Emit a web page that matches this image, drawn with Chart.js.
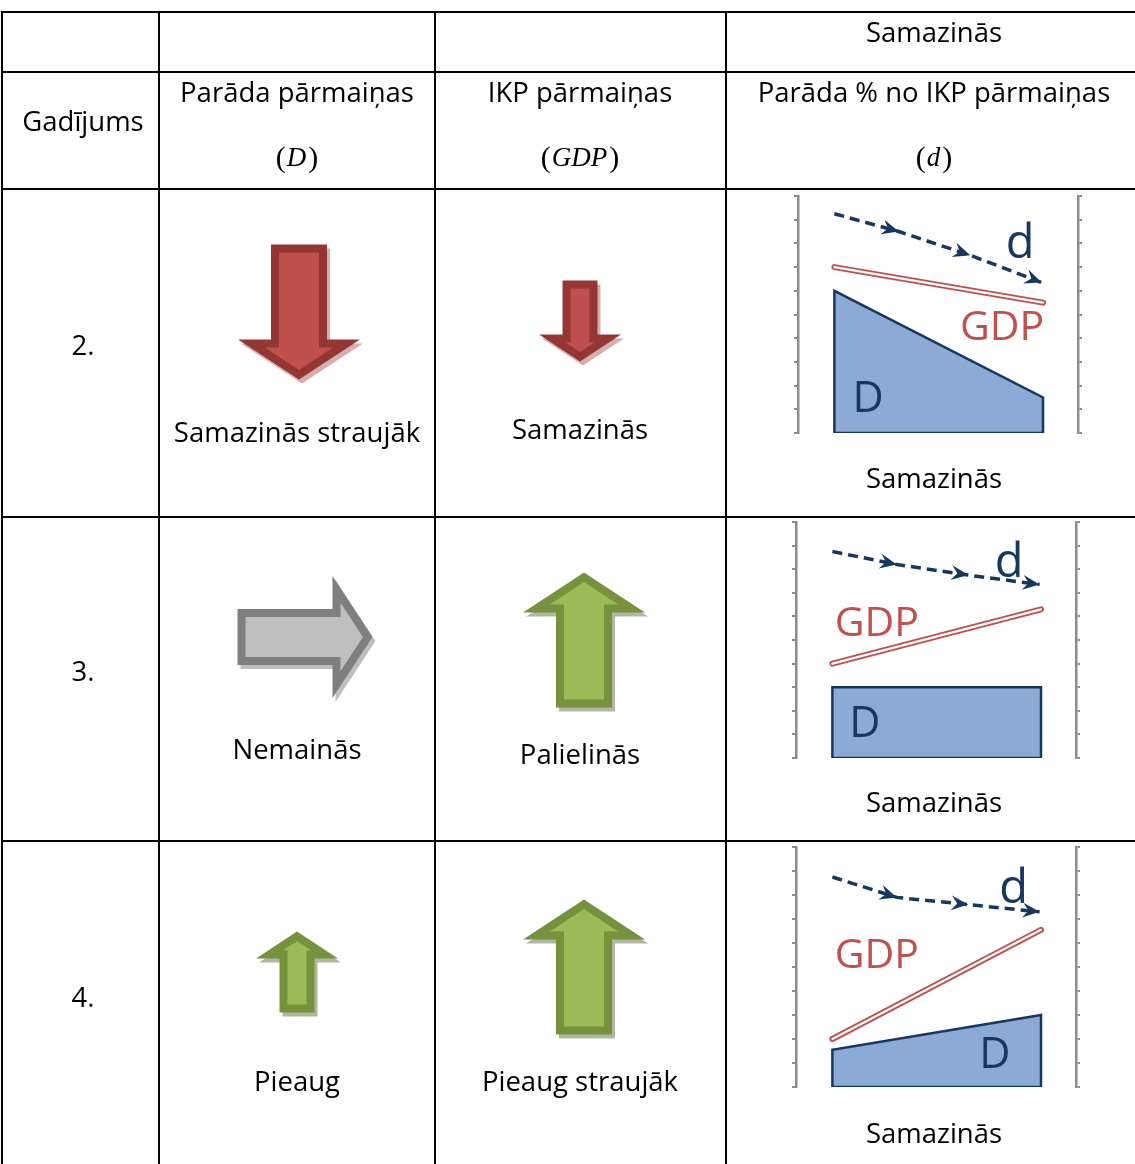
<!DOCTYPE html>
<html><head><meta charset="utf-8">
<script src="https://cdn.jsdelivr.net/npm/chart.js@4.4.1/dist/chart.umd.min.js"></script>
<style>
html,body{margin:0;padding:0;background:#fff;overflow:hidden;}
#wrap{position:relative;width:1135px;height:1164px;background:#fff;}
#wrap canvas{position:absolute;left:0;top:0;}
</style></head><body>
<div id="wrap"><canvas id="main" width="1135" height="1164"></canvas></div>
<script>
// ---------------- DATA ----------------
const caseLabels   = ['2.', '3.', '4.'];
const headerTop    = ['', '', '', 'Samazinās'];
const headerLabels = ['Gadījums', 'Parāda pārmaiņas', 'IKP pārmaiņas', 'Parāda % no IKP pārmaiņas'];
const headerSymbols = ['', 'D', 'GDP', 'd'];
// trend of each series per case: sign = direction, |2| = large arrow, |1| = small arrow, 0 = unchanged
const debtTrend = [-2, 0, 1];
const gdpTrend  = [-1, 2, 2];
const debtText  = ['Samazinās straujāk', 'Nemainās', 'Pieaug'];
const gdpText   = ['Samazinās', 'Palielinās', 'Pieaug straujāk'];
const ratioText = ['Samazinās', 'Samazinās', 'Samazinās'];
// schematic diagrams (axis 0..10)
const diagramX   = [1.3, 8.75];
const ratioX     = [1.3, 3.6, 6.15, 8.7];
const debtLevels = [[6.0, 1.5], [3.0, 3.0], [1.55, 3.0]];
const gdpLevels  = [[7.0, 5.5], [4.0, 6.3], [2.0, 6.55]];
const ratioLevels = [[9.25, 8.5, 7.5, 6.35], [8.75, 8.2, 7.75, 7.35], [8.75, 7.9, 7.6, 7.3]];
const axisRange = [0, 10];

// ---------------- LAYOUT / STYLE ----------------
const W = 1135, H = 1164;
const colEdges = [2, 159, 435, 726];
const rowEdges = [12, 72, 189, 517, 841];
const colCenters = [83, 297, 580, 934];
const headTopBase = 42, headBase = 102, headCaseBase = 131, headSymBase = 166;
const caseBase = [355, 681, 1007];
const cellLabelBase = [[442, 439, 488], [759, 764, 812], [1091, 1091, 1143]];
const arrowPos = [[[299, 312], [580, 321]], [[305, 637], [584, 640]], [[297, 972], [584, 967]]];
const diagBox = [[798, 196, 1078, 433], [796, 522, 1076, 758], [796, 847, 1076, 1087]];
const labelPos = [
  {D: [2.5, 0.89], GDP: [7.29, 3.92], d: [7.93, 7.38]},
  {D: [2.46, 0.89], GDP: [2.89, 5.17], d: [7.61, 7.67]},
  {D: [7.1, 0.79], GDP: [2.89, 4.96], d: [7.77, 7.67]}
];
const FONT = '27.5px "Open Sans"';
const GRAY = '#8A8A8A', NAVY = '#17375E', BLUE = '#8CAAD5', RED = '#C0504D';
const BIG = {len: 135, head: 122, shaft: 56, headLen: 40};
const SMALL = {len: 81, head: 82, shaft: 35, headLen: 27};
const ARROW_STYLE = {
  neg:  {fill: '#C0504D', edge: '#943634', shadow: 'rgba(148,54,52,0.40)'},
  zero: {fill: '#BFBFBF', edge: '#7F7F7F', shadow: 'rgba(110,110,110,0.45)'},
  pos:  {fill: '#9BBB59', edge: '#76923C', shadow: 'rgba(95,110,70,0.50)'}
};
const BORDER = 8;

// ---------------- HELPERS ----------------
function arrowShape(v, cx, cy) {
  const s = Math.abs(v) === 1 ? SMALL : BIG;
  const L = s.len, hl = s.headLen;
  let pts = [[0, -L / 2], [s.head / 2, -L / 2 + hl], [s.shaft / 2, -L / 2 + hl], [s.shaft / 2, L / 2],
             [-s.shaft / 2, L / 2], [-s.shaft / 2, -L / 2 + hl], [-s.head / 2, -L / 2 + hl]];
  const rot = v > 0 ? p => p : v < 0 ? p => [-p[0], -p[1]] : p => [-p[1], p[0]];
  return pts.map(rot).map(p => [p[0] + cx, p[1] + cy]);
}
function inset(pts, d) {
  const n = pts.length;
  let A = 0;
  for (let i = 0; i < n; i++) { const a = pts[i], b = pts[(i + 1) % n]; A += a[0] * b[1] - b[0] * a[1]; }
  const sg = A > 0 ? 1 : -1;
  const edges = pts.map((a, i) => {
    const b = pts[(i + 1) % n], dx = b[0] - a[0], dy = b[1] - a[1], l = Math.hypot(dx, dy);
    const nx = sg * -dy / l, ny = sg * dx / l;
    return {p: [a[0] + nx * d, a[1] + ny * d], r: [dx, dy]};
  });
  const cross = (u, w) => u[0] * w[1] - u[1] * w[0];
  return pts.map((_, i) => {
    const e1 = edges[(i - 1 + n) % n], e2 = edges[i];
    const den = cross(e1.r, e2.r);
    if (Math.abs(den) < 1e-9) return e2.p;
    const t = cross([e2.p[0] - e1.p[0], e2.p[1] - e1.p[1]], e2.r) / den;
    return [e1.p[0] + t * e1.r[0], e1.p[1] + t * e1.r[1]];
  });
}
function styleFor(v) { return v < 0 ? ARROW_STYLE.neg : v > 0 ? ARROW_STYLE.pos : ARROW_STYLE.zero; }

// ---------------- MAIN TABLE CHART ----------------
const mainSets = [];
let seq = 0;
function addSet(ds, arr) {
  const a = arr || mainSets;
  ds.order = -(seq++); ds.pointRadius = 0; ds.pointHoverRadius = 0; ds.tension = 0;
  a.push(ds);
}
function poly(pts, color) {
  return {data: pts.concat([pts[0]]).map(p => ({x: p[0], y: p[1]})), fill: 'shape',
          backgroundColor: color, borderColor: 'rgba(0,0,0,0)', borderWidth: 0};
}
[debtTrend, gdpTrend].forEach((trend, c) => trend.forEach((v, r) => {
  const [cx, cy] = arrowPos[r][c];
  const outer = arrowShape(v, cx, cy);
  const st = styleFor(v);
  addSet(poly(outer.map(p => [p[0] + 3, p[1] + 4]), st.shadow));
  addSet(poly(outer, st.edge));
  addSet(poly(inset(outer, BORDER), st.fill));
}));
rowEdges.forEach(yv => addSet({data: [{x: colEdges[0] - 1, y: yv}, {x: W, y: yv}], borderColor: '#000', borderWidth: 2, fill: false}));
colEdges.forEach(xv => addSet({data: [{x: xv, y: rowEdges[0] - 1}, {x: xv, y: H}], borderColor: '#000', borderWidth: 2, fill: false}));

function drawMath(ctx, s, cx, base) {
  const up = '30px "Liberation Serif"', it = 'italic 27px "Liberation Serif"';
  ctx.font = up; const wp = ctx.measureText('(').width, wq = ctx.measureText(')').width;
  ctx.font = it; const ws = ctx.measureText(s).width + 3;
  const x0 = cx - (wp + ws + wq) / 2;
  ctx.textAlign = 'left';
  ctx.font = up; ctx.fillText('(', x0, base + 1);
  ctx.font = it; ctx.fillText(s, x0 + wp + 1, base);
  ctx.font = up; ctx.fillText(')', x0 + wp + ws, base + 1);
  ctx.textAlign = 'center'; ctx.font = FONT;
}
const tablePlugin = {
  id: 'tableText',
  afterDatasetsDraw(chart) {
    const {ctx, scales: {x, y}} = chart;
    const px = v => x.getPixelForValue(v), py = v => y.getPixelForValue(v);
    ctx.save();
    ctx.fillStyle = '#000'; ctx.textAlign = 'center'; ctx.textBaseline = 'alphabetic'; ctx.font = FONT;
    headerTop.forEach((t, i) => { if (t) ctx.fillText(t, px(colCenters[i]), py(headTopBase)); });
    headerLabels.forEach((t, i) => ctx.fillText(t, px(colCenters[i]), py(headerSymbols[i] ? headBase : headCaseBase)));
    headerSymbols.forEach((s, i) => { if (s) drawMath(ctx, s, px(colCenters[i]), py(headSymBase)); });
    caseLabels.forEach((t, r) => ctx.fillText(t, px(colCenters[0]), py(caseBase[r])));
    [debtText, gdpText, ratioText].forEach((arr, c) => arr.forEach((t, r) =>
      ctx.fillText(t, px(colCenters[c + 1]), py(cellLabelBase[r][c]))));
    ctx.restore();
  }
};
const charts = [];
charts.push(new Chart(document.getElementById('main'), {
  type: 'line',
  data: {datasets: mainSets},
  options: {
    responsive: false, animation: false, events: [],
    layout: {padding: 0, autoPadding: false},
    plugins: {legend: {display: false}, tooltip: {enabled: false}},
    elements: {line: {borderJoinStyle: 'miter'}},
    scales: {
      x: {type: 'linear', min: 0, max: W, display: false},
      y: {type: 'linear', min: 0, max: H, reverse: true, display: false}
    }
  },
  plugins: [tablePlugin]
}));

// ---------------- DIAGRAM CHARTS ----------------
function arrowhead(ctx, a, b) {
  const dx = b[0] - a[0], dy = b[1] - a[1], L = Math.hypot(dx, dy);
  const ux = dx / L, uy = dy / L, vx = -uy, vy = ux;
  const len = 17, half = 7.5, notch = 11;
  ctx.beginPath();
  ctx.moveTo(b[0], b[1]);
  ctx.lineTo(b[0] - ux * len + vx * half, b[1] - uy * len + vy * half);
  ctx.lineTo(b[0] - ux * notch, b[1] - uy * notch);
  ctx.lineTo(b[0] - ux * len - vx * half, b[1] - uy * len - vy * half);
  ctx.closePath(); ctx.fill();
}
const diagramPlugin = {
  id: 'diagramMarks',
  afterDatasetsDraw(chart, args, opts) {
    const r = opts.row;
    const {ctx, scales: {x, yL}} = chart;
    const di = chart.data.datasets.findIndex(ds => ds.label === 'd');
    const pts = chart.getDatasetMeta(di).data.map(p => [p.x, p.y]);
    ctx.save();
    ctx.fillStyle = NAVY;
    for (let i = 1; i < pts.length; i++) arrowhead(ctx, pts[i - 1], pts[i]);
    const lp = labelPos[r];
    ctx.textAlign = 'center'; ctx.textBaseline = 'alphabetic';
    ctx.font = '43px "Open Sans"'; ctx.fillStyle = NAVY;
    ctx.fillText(headerSymbols[1], x.getPixelForValue(lp.D[0]), yL.getPixelForValue(lp.D[1]));
    ctx.font = '41px "Open Sans"'; ctx.fillStyle = RED;
    ctx.fillText(headerSymbols[2], x.getPixelForValue(lp.GDP[0]), yL.getPixelForValue(lp.GDP[1]));
    ctx.font = '47px "Open Sans"'; ctx.fillStyle = NAVY;
    ctx.fillText(headerSymbols[3], x.getPixelForValue(lp.d[0]), yL.getPixelForValue(lp.d[1]));
    ctx.restore();
  }
};
const TICK = 4, PADX = 20, PADY = 12;
const axisCfg = pos => ({
  type: 'linear', position: pos, display: true, min: axisRange[0], max: axisRange[1],
  ticks: {display: false, stepSize: 1},
  grid: {display: true, drawOnChartArea: false, drawTicks: true, tickLength: TICK, color: GRAY, lineWidth: 2},
  border: {display: true, color: GRAY, width: 2.5}
});
const wrap = document.getElementById('wrap');
diagBox.forEach((box, r) => {
  const [L, T, R, B] = box;
  const cv = document.createElement('canvas');
  const w = (R - L) + 2 * (PADX + TICK), h = (B - T) + 2 * PADY;
  cv.width = w; cv.height = h;
  cv.style.left = (L - PADX - TICK) + 'px'; cv.style.top = (T - PADY) + 'px';
  cv.style.width = w + 'px'; cv.style.height = h + 'px';
  wrap.appendChild(cv);
  const sets = [];
  const x0 = diagramX[0], x1 = diagramX[1];
  addSet({label: 'D', yAxisID: 'yL', fill: 'shape', backgroundColor: BLUE, borderColor: NAVY, borderWidth: 2.5,
    borderJoinStyle: 'miter',
    data: [{x: x0, y: 0}, {x: x0, y: debtLevels[r][0]}, {x: x1, y: debtLevels[r][1]}, {x: x1, y: 0}, {x: x0, y: 0}]}, sets);
  addSet({label: 'GDP', yAxisID: 'yL', fill: false, borderColor: RED, borderWidth: 6, borderCapStyle: 'round',
    data: diagramX.map((xv, i) => ({x: xv, y: gdpLevels[r][i]}))}, sets);
  addSet({label: 'GDPi', yAxisID: 'yL', fill: false, borderColor: '#fff', borderWidth: 2.2, borderCapStyle: 'round',
    data: diagramX.map((xv, i) => ({x: xv, y: gdpLevels[r][i]}))}, sets);
  addSet({label: 'd', yAxisID: 'yL', fill: false, borderColor: NAVY, borderWidth: 3.5, borderDash: [10, 6],
    data: ratioX.map((xv, i) => ({x: xv, y: ratioLevels[r][i]}))}, sets);
  charts.push(new Chart(cv, {
    type: 'line',
    data: {datasets: sets},
    options: {
      responsive: false, animation: false, events: [],
      layout: {padding: {left: PADX, right: PADX, top: PADY, bottom: PADY}, autoPadding: false},
      plugins: {legend: {display: false}, tooltip: {enabled: false}, diagramMarks: {row: r}},
      scales: {x: {type: 'linear', min: axisRange[0], max: axisRange[1], display: false}, yL: axisCfg('left'), yR: axisCfg('right')}
    },
    plugins: [diagramPlugin]
  }));
});
if (document.fonts && document.fonts.ready) {
  document.fonts.ready.then(() => charts.forEach(c => c.update('none')));
}
</script>
</body></html>
